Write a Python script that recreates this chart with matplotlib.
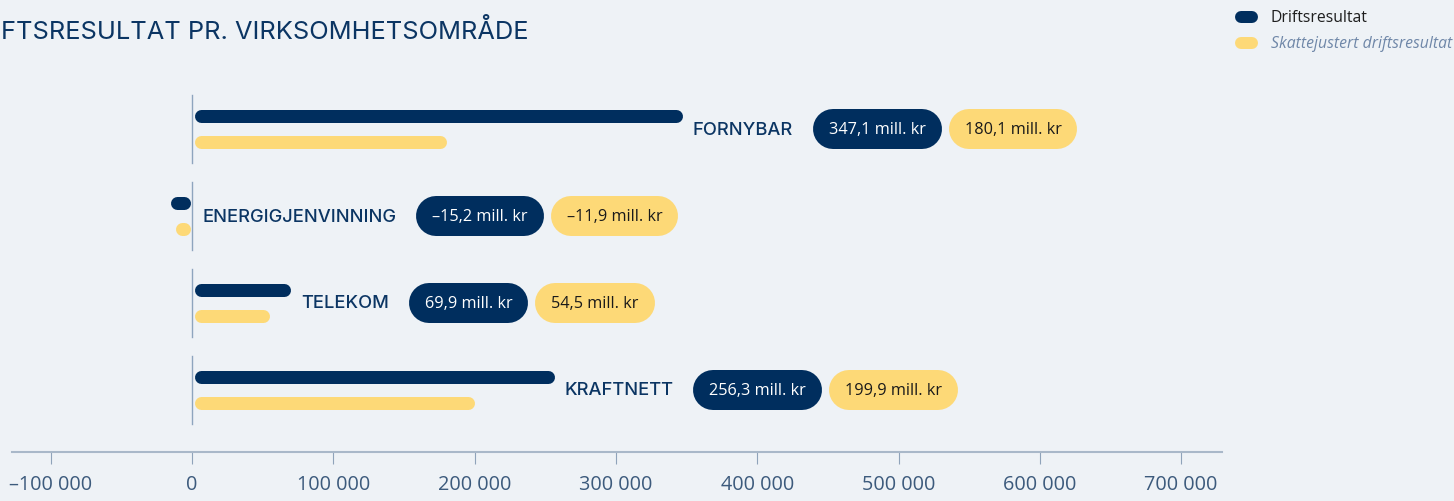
import matplotlib
matplotlib.use("Agg")
import matplotlib.pyplot as plt
from matplotlib.lines import Line2D
from matplotlib.transforms import IdentityTransform

# ---------------- data ----------------
categories = ["FORNYBAR", "ENERGIGJENVINNING", "TELEKOM", "KRAFTNETT"]
drift = [347100, -15200, 69900, 256300]
skatt = [180100, -11900, 54500, 199900]
drift_labels = ["347,1 mill. kr", "–15,2 mill. kr", "69,9 mill. kr", "256,3 mill. kr"]
skatt_labels = ["180,1 mill. kr", "–11,9 mill. kr", "54,5 mill. kr", "199,9 mill. kr"]
xticks = [-100000, 0, 100000, 200000, 300000, 400000, 500000, 600000, 700000]
xtick_labels = ["–100 000", "0", "100 000", "200 000", "300 000",
                "400 000", "500 000", "600 000", "700 000"]
title = "FTSRESULTAT PR. VIRKSOMHETSOMRÅDE"
legend_labels = ["Driftsresultat", "Skattejustert driftsresultat"]

# ---------------- style ----------------
BG = "#EEF2F6"
NAVY = "#002E5E"
YELLOW = "#FDD977"
LINE = "#8EA5BE"
TICKC = "#3C5A7C"
W, H = 1454, 502
PT = 0.72  # points per pixel at dpi 100

fig = plt.figure(figsize=(W / 100, H / 100), dpi=100, facecolor=BG)
ax = fig.add_axes([12 / W, (H - 453) / H, (1222 - 12) / W, (453 - 80) / H])
ax.set_facecolor(BG)
ax.set_xlim(-127400, 728945)
ax.set_ylim(3.713, -0.575)

for s in ["top", "right", "left"]:
    ax.spines[s].set_visible(False)
ax.spines["bottom"].set_color("#A9B8C9")
ax.spines["bottom"].set_linewidth(1.5)
ax.set_yticks([])
ax.set_xticks(xticks)
ax.set_xticklabels(xtick_labels, fontsize=14.3, color=TICKC,
                   family=["Open Sans", "DejaVu Sans"])
ax.tick_params(axis="x", length=8.6, width=0.8, color="#8FA3BA", pad=7.3)

tr = ax.transData
inv = tr.inverted()
zero_px = tr.transform((0, 0))[0]
renderer = fig.canvas.get_renderer()
ident = IdentityTransform()


def pill(x0, x1, yc, h, color, z=4):
    """Fully rounded pill between pixel x0 and x1 (outer edges), height h."""
    r = h / 2
    a, b = x0 + r, x1 - r
    if b < a:
        a = b = (x0 + x1) / 2
    ln = Line2D([a, b], [yc, yc], lw=h * PT, color=color, solid_capstyle="round",
                transform=ident, zorder=z)
    fig.add_artist(ln)


lw_px = 13
r = lw_px / 2
gap = 2
off = 0.152

for i, cat in enumerate(categories):
    ax.plot([0, 0], [i - 0.39, i + 0.39], color=LINE, lw=1.0, zorder=2)
    ends = [zero_px]
    for val, dy, col in ((drift[i], -off, NAVY), (skatt[i], off, YELLOW)):
        v_px = tr.transform((val, 0))[0]
        sgn = 1 if val >= 0 else -1
        start = zero_px + sgn * (gap + r)
        end = v_px - sgn * r
        if sgn * (end - start) < 0:
            end = start
        x0 = inv.transform((start, 0))[0]
        x1 = inv.transform((end, 0))[0]
        ax.plot([x0, x1], [i + dy, i + dy], color=col, lw=lw_px * PT,
                solid_capstyle="round", zorder=3)
        ends.append(v_px)
    yc = tr.transform((0, i))[1]
    lx = max(ends) + 10
    t = fig.text(lx, yc, cat, transform=ident, ha="left", va="center",
                 fontsize=13.2, color="#0B3563", weight="medium",
                 family=["Inter", "DejaVu Sans"])
    bb = t.get_window_extent(renderer)
    left = bb.x1 + 20
    pad = 16
    ph = 40
    for lab, fc, tc in ((drift_labels[i], NAVY, "white"), (skatt_labels[i], YELLOW, "#1A1A1A")):
        tt = fig.text(left + pad, yc, lab, transform=ident, ha="left", va="center",
                      fontsize=11.7, color=tc, family=["Open Sans", "DejaVu Sans"], zorder=5)
        tb = tt.get_window_extent(renderer)
        pw = tb.width + 2 * pad
        pill(left, left + pw, yc, ph, fc)
        left = left + pw + 7

# title
fig.text(1, H - 32, title, transform=ident, ha="left", va="center",
         fontsize=18.3, color="#0B3563", weight="normal", family=["Inter", "DejaVu Sans"])

# legend
for k, (lab, col) in enumerate(zip(legend_labels, [NAVY, YELLOW])):
    yc = H - (18 + 26 * k)
    pill(1235, 1258, yc, 12, col)
    fig.text(1271, yc, lab, transform=ident, ha="left", va="center",
             fontsize=11.3, color="#1E1E1E" if k == 0 else "#6F87A8",
             style="normal" if k == 0 else "italic",
             family=["Open Sans", "DejaVu Sans"])

fig.savefig("out.png", dpi=100, facecolor=BG)
